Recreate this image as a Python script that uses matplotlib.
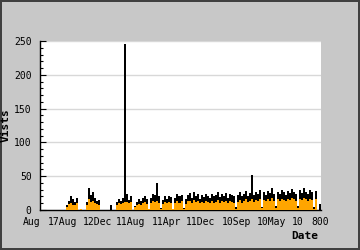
import numpy as np
import matplotlib
matplotlib.use('Agg')
import matplotlib.pyplot as plt
from matplotlib.ticker import MultipleLocator

# daily visits (black) and the lower orange series, one value per day slot
visits = [0, 0, 0, 0, 0, 0, 0, 0, 0, 0, 0, 0, 0,
          8, 14, 20, 16, 12, 18,
          0, 2, 0, 0,
          12, 32, 22, 26, 18, 14, 15,
          0, 0, 0, 0, 0,
          7,
          0, 0,
          12, 16, 14, 18, 245, 24, 15, 20,
          0,
          6, 12, 16, 14, 18, 20, 16, 2, 18, 24, 22, 40, 20, 3, 15, 20, 17, 21, 19, 2,
          18, 24, 20, 22, 3, 16, 22, 25, 18, 26, 20, 24, 17, 22, 19, 23, 21, 18, 24,
          20, 22, 26, 19, 23, 21, 25, 18, 24, 22, 20, 4, 22, 26, 20, 24, 28, 21, 25,
          52, 22, 27, 24, 30, 5, 26, 22, 28, 25, 33, 24, 6, 27, 24, 30, 26, 22, 28,
          25, 31, 27, 24, 6, 29, 25, 32, 27, 24, 30, 26, 4, 28,
          0, 9]

orange = [0, 0, 0, 0, 0, 0, 0, 0, 0, 0, 0, 0, 0,
          5, 9, 10, 8, 7, 10,
          0, 2, 0, 0,
          8, 16, 12, 14, 10, 9, 8,
          0, 0, 0, 0, 0,
          0,
          0, 0,
          8, 10, 9, 10, 12, 12, 10, 12,
          0,
          4, 7, 9, 8, 10, 12, 9, 1, 10, 14, 12, 14, 11, 2, 9, 12, 10, 12, 11, 1,
          10, 14, 11, 13, 2, 9, 13, 14, 10, 15, 12, 13, 10, 12, 11, 13, 12, 10, 14,
          11, 12, 15, 11, 13, 12, 14, 10, 13, 12, 11, 2, 12, 15, 11, 14, 16, 12, 14,
          16, 12, 15, 14, 17, 3, 15, 13, 16, 14, 18, 14, 3, 16, 14, 17, 15, 13, 16,
          15, 18, 16, 14, 3, 17, 15, 18, 16, 14, 17, 15, 2, 16,
          0, 0]

date_labels = ['Aug', '17Aug', '12Dec', '11Aug', '11Apr', '11Dec', '10Sep', '10May', '10', '800']
label_pos = [-4.2, 11.2, 28.6, 45.3, 62.8, 80.2, 98.1, 115.6, 128.3, 139.5]

days = np.arange(len(visits))

plt.rcParams['font.family'] = 'DejaVu Sans Mono'

fig = plt.figure(figsize=(3.6, 2.5), dpi=100)
fig.patch.set_facecolor('#c8c8c8')
fig.patch.set_edgecolor('#404040')
fig.patch.set_linewidth(1.5)

ax = fig.add_axes([40/360, 40/250, 281/360, 169/250])
ax.set_facecolor('white')

ax.bar(days, visits, width=1.0, align='edge', color='black', linewidth=0, zorder=2)
ax.bar(days, orange, width=1.0, align='edge', color='#ffa500', linewidth=0, zorder=3)

ax.set_xlim(0, 140)
ax.set_ylim(0, 250)
ax.yaxis.set_major_locator(MultipleLocator(50))
ax.yaxis.set_minor_locator(MultipleLocator(10))
ax.grid(axis='y', color='#d8d8d8', linewidth=1, zorder=0)
ax.set_axisbelow(True)

ax.tick_params(axis='y', which='major', direction='in', length=4, width=0.8, pad=6, labelsize=7)
ax.tick_params(axis='y', which='minor', direction='in', length=2, width=0.8)
ax.set_xticks([])

for s in ['top', 'right']:
    ax.spines[s].set_visible(False)
for s in ['left', 'bottom']:
    ax.spines[s].set_linewidth(1)

for lab, p in zip(date_labels, label_pos):
    ax.text(p, -0.04, lab, transform=ax.get_xaxis_transform(), ha='center', va='top',
            fontsize=7, clip_on=False)

ax.set_ylabel('Vists', fontsize=8, fontweight='bold', labelpad=2)
ax.yaxis.set_label_coords(-0.105, 0.5)
fig.text(305/360, 1 - 236/250, 'Date', fontsize=8, fontweight='bold', ha='center', va='center')

plt.savefig('out.png', dpi=100, facecolor=fig.get_facecolor(), edgecolor=fig.get_edgecolor())
